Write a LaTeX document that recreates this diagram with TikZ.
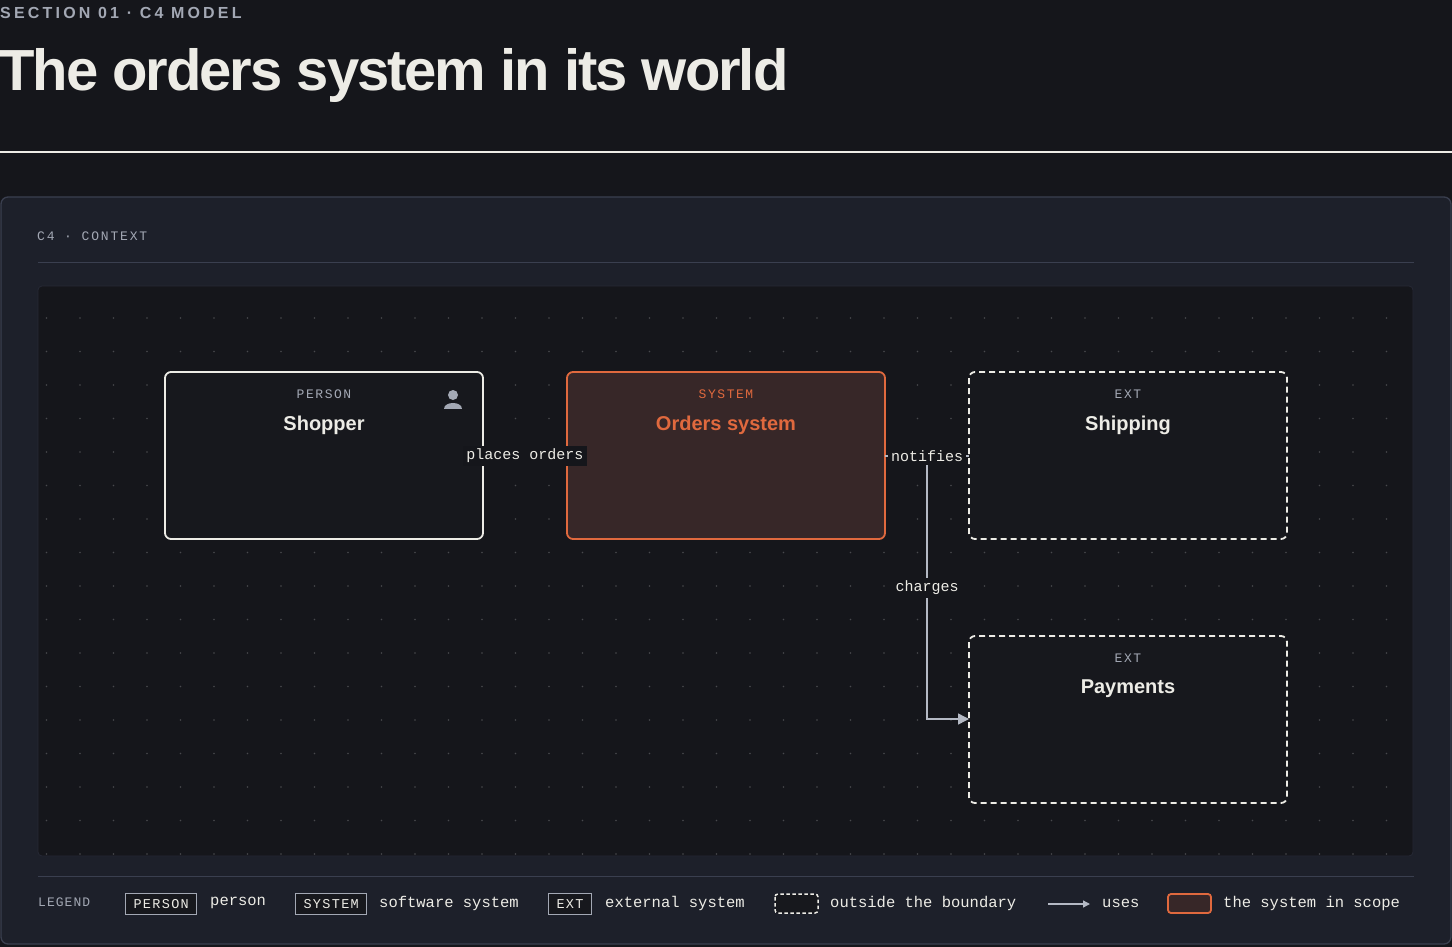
\documentclass[tikz,border=0pt]{standalone}
\usepackage{fontspec}
\setmainfont{Liberation Sans}
\setsansfont{Liberation Sans}
\setmonofont{Liberation Mono}
\usetikzlibrary{arrows.meta}
\definecolor{bg}{HTML}{15161B}
\definecolor{card}{HTML}{1D202A}
\definecolor{cardline}{HTML}{3A3F4F}
\definecolor{canvas}{HTML}{15161B}
\definecolor{ink}{HTML}{EDECE6}
\definecolor{muted}{HTML}{A3A8B4}
\definecolor{orange}{HTML}{E0693E}
\definecolor{sysfill}{HTML}{372728}
\definecolor{boxfill}{HTML}{17181D}
\definecolor{conn}{HTML}{B4B9C4}
\tikzset{
  x=1pt,y=-1pt,
  box/.style={draw=ink,line width=1.8pt,rounded corners=6pt,fill=boxfill},
  sysbox/.style={draw=orange,line width=1.8pt,rounded corners=6pt,fill=sysfill},
  extbox/.style={draw=ink,line width=1.8pt,dash pattern=on 6pt off 4pt,rounded corners=6pt,fill=boxfill},
  typ/.style={font=\ttfamily\fontsize{13}{13}\selectfont\addfontfeatures{LetterSpace=12},text=muted},
  ttl/.style={font=\sffamily\bfseries\fontsize{20}{20}\selectfont,text=ink},
  lbl/.style={font=\ttfamily\fontsize{15}{15}\selectfont,text=ink,fill=bg,inner sep=3pt},
  conn/.style={draw=conn,line width=1.4pt},
  leg/.style={font=\ttfamily\fontsize{15.5}{16}\selectfont,text=ink,anchor=west,inner sep=0pt},
  legbox/.style={draw=muted,line width=1pt,font=\ttfamily\fontsize{13.5}{14}\selectfont\addfontfeatures{LetterSpace=10},text=ink,inner xsep=8pt,inner ysep=3pt,minimum height=21pt,anchor=west,fill=boxfill}
}
\begin{document}
\begin{tikzpicture}
\fill[bg] (0,0) rectangle (1452,947);
\useasboundingbox (0,0) rectangle (1452,947);
% header
\node[anchor=west,inner sep=0pt,text=muted,font=\sffamily\bfseries\fontsize{16}{16}\selectfont\addfontfeatures{LetterSpace=20}] (sec) at (0,13) {SECTION 01 · C4 MODEL};
\node[anchor=west,inner sep=0pt,text=ink,font=\sffamily\bfseries\fontsize{58}{58}\selectfont\addfontfeatures{LetterSpace=-3.5}] (title) at (-1,76) {The orders system in its world};
\draw[ink,line width=2.5pt] (0,152) -- (1452,152);
% card
\draw[fill=card,draw=cardline,line width=1.3pt,rounded corners=7pt] (1,197) rectangle (1451,944);
\node[anchor=west,inner sep=0pt,text=muted,font=\ttfamily\fontsize{13}{13}\selectfont\addfontfeatures{LetterSpace=14}] (ctx) at (37,236) {C4 · CONTEXT};
\draw[cardline,line width=1pt] (38,262) -- (1414,262);
\draw[fill=canvas,draw=card!70!cardline,line width=0.8pt,rounded corners=4pt] (38,286) rectangle (1413,856);
\foreach \i in {0,...,40}{\foreach \j in {0,...,16}{
  \fill[white!22!canvas] (80+33.5*\i-33.5,318+33.5*\j) circle (0.8pt);}}
\draw[cardline,line width=1pt] (38,876) -- (1414,876);
% boxes
\draw[box] (165,372) rectangle (483,539);
\coordinate (shopE) at (483,456);
\node[typ] (t1) at (324,394) {PERSON};
\node[ttl] (n1) at (324,425) {Shopper};
\fill[muted] (453,395) circle (5pt);
\fill[muted] (444,409) .. controls (444,401) and (462,401) .. (462,409) -- cycle;
\draw[sysbox] (567,372) rectangle (885,539);
\coordinate (ordW) at (567,456);
\coordinate (ordE) at (885,456);
\node[typ,text=orange] (t2) at (726,394) {SYSTEM};
\node[ttl,text=orange] (n2) at (726,425) {Orders system};
\draw[extbox] (969,372) rectangle (1287,539);
\coordinate (shipW) at (969,456);
\node[typ] (t3) at (1128,394) {EXT};
\node[ttl] (n3) at (1128,425) {Shipping};
\draw[extbox] (969,636) rectangle (1287,803);
\coordinate (payW) at (969,719);
\node[typ] (t4) at (1128,658) {EXT};
\node[ttl] (n4) at (1128,689) {Payments};
% connectors
\draw[conn] (shopE) -- (ordW);
\node[lbl] (l1) at (525,456) {places orders};
\draw[conn] (ordE) -- (shipW);
\coordinate (bend) at (927,719);
\draw[conn,-{Triangle[length=11pt,width=11pt]}] (ordE) -| (bend) -- (payW);
\node[lbl] (l2) at (927,456) {notifies};
\node[lbl] (l3) at (927,588) {charges};
% legend
\node[anchor=west,inner sep=0pt,text=muted,font=\ttfamily\fontsize{13}{13}\selectfont\addfontfeatures{LetterSpace=8}] (lg) at (38,902) {LEGEND};
\node[legbox] (b1) at (125,904) {PERSON};
\node[leg] (g1) at (210,903) {person};
\node[legbox] (b2) at (295,904) {SYSTEM};
\node[leg] (g2) at (379,903) {software system};
\node[legbox] (b3) at (548,904) {EXT};
\node[leg] (g3) at (605,903) {external system};
\draw[draw=ink,line width=1.5pt,dash pattern=on 3.5pt off 2.5pt,rounded corners=3pt,fill=boxfill] (775,894) rectangle (818,913);
\node[leg] (g4) at (830,903) {outside the boundary};
\coordinate (a1) at (1048,904);
\coordinate (a2) at (1090,904);
\draw[conn,-{Triangle[length=7pt,width=7pt]}] (a1) -- (a2);
\node[leg] (g5) at (1102,903) {uses};
\draw[draw=orange,line width=1.8pt,rounded corners=3pt,fill=sysfill] (1168,894) rectangle (1211,913);
\node[leg] (g6) at (1223,903) {the system in scope};
\end{tikzpicture}
\end{document}
